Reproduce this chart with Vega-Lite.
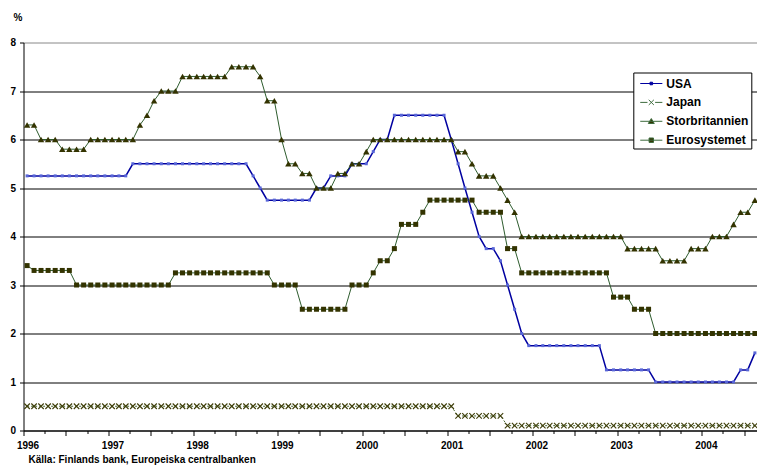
{
  "$schema": "https://vega.github.io/schema/vega-lite/v6.json",
  "width": 735,
  "height": 388,
  "autosize": "none",
  "padding": {"left": 23.5, "top": 42.5, "right": 0, "bottom": 44.5},
  "background": "white",
  "config": {"view": {"stroke": null}, "font": "Liberation Sans"},
  "title": {
    "text": "Källa: Finlands bank, Europeiska centralbanken",
    "orient": "bottom",
    "anchor": "start",
    "frame": "group",
    "dx": 5,
    "offset": 4,
    "font": "Liberation Sans",
    "fontSize": 10,
    "fontWeight": "bold",
    "color": "#000"
  },
  "data": {
    "values": [
      {"m": "1996-01", "USA": 5.25, "Japan": 0.5, "Storbritannien": 6.3, "Eurosystemet": 3.4},
      {"m": "1996-02", "USA": 5.25, "Japan": 0.5, "Storbritannien": 6.3, "Eurosystemet": 3.3},
      {"m": "1996-03", "USA": 5.25, "Japan": 0.5, "Storbritannien": 6.0, "Eurosystemet": 3.3},
      {"m": "1996-04", "USA": 5.25, "Japan": 0.5, "Storbritannien": 6.0, "Eurosystemet": 3.3},
      {"m": "1996-05", "USA": 5.25, "Japan": 0.5, "Storbritannien": 6.0, "Eurosystemet": 3.3},
      {"m": "1996-06", "USA": 5.25, "Japan": 0.5, "Storbritannien": 5.8, "Eurosystemet": 3.3},
      {"m": "1996-07", "USA": 5.25, "Japan": 0.5, "Storbritannien": 5.8, "Eurosystemet": 3.3},
      {"m": "1996-08", "USA": 5.25, "Japan": 0.5, "Storbritannien": 5.8, "Eurosystemet": 3.0},
      {"m": "1996-09", "USA": 5.25, "Japan": 0.5, "Storbritannien": 5.8, "Eurosystemet": 3.0},
      {"m": "1996-10", "USA": 5.25, "Japan": 0.5, "Storbritannien": 6.0, "Eurosystemet": 3.0},
      {"m": "1996-11", "USA": 5.25, "Japan": 0.5, "Storbritannien": 6.0, "Eurosystemet": 3.0},
      {"m": "1996-12", "USA": 5.25, "Japan": 0.5, "Storbritannien": 6.0, "Eurosystemet": 3.0},
      {"m": "1997-01", "USA": 5.25, "Japan": 0.5, "Storbritannien": 6.0, "Eurosystemet": 3.0},
      {"m": "1997-02", "USA": 5.25, "Japan": 0.5, "Storbritannien": 6.0, "Eurosystemet": 3.0},
      {"m": "1997-03", "USA": 5.25, "Japan": 0.5, "Storbritannien": 6.0, "Eurosystemet": 3.0},
      {"m": "1997-04", "USA": 5.5, "Japan": 0.5, "Storbritannien": 6.0, "Eurosystemet": 3.0},
      {"m": "1997-05", "USA": 5.5, "Japan": 0.5, "Storbritannien": 6.3, "Eurosystemet": 3.0},
      {"m": "1997-06", "USA": 5.5, "Japan": 0.5, "Storbritannien": 6.5, "Eurosystemet": 3.0},
      {"m": "1997-07", "USA": 5.5, "Japan": 0.5, "Storbritannien": 6.8, "Eurosystemet": 3.0},
      {"m": "1997-08", "USA": 5.5, "Japan": 0.5, "Storbritannien": 7.0, "Eurosystemet": 3.0},
      {"m": "1997-09", "USA": 5.5, "Japan": 0.5, "Storbritannien": 7.0, "Eurosystemet": 3.0},
      {"m": "1997-10", "USA": 5.5, "Japan": 0.5, "Storbritannien": 7.0, "Eurosystemet": 3.25},
      {"m": "1997-11", "USA": 5.5, "Japan": 0.5, "Storbritannien": 7.3, "Eurosystemet": 3.25},
      {"m": "1997-12", "USA": 5.5, "Japan": 0.5, "Storbritannien": 7.3, "Eurosystemet": 3.25},
      {"m": "1998-01", "USA": 5.5, "Japan": 0.5, "Storbritannien": 7.3, "Eurosystemet": 3.25},
      {"m": "1998-02", "USA": 5.5, "Japan": 0.5, "Storbritannien": 7.3, "Eurosystemet": 3.25},
      {"m": "1998-03", "USA": 5.5, "Japan": 0.5, "Storbritannien": 7.3, "Eurosystemet": 3.25},
      {"m": "1998-04", "USA": 5.5, "Japan": 0.5, "Storbritannien": 7.3, "Eurosystemet": 3.25},
      {"m": "1998-05", "USA": 5.5, "Japan": 0.5, "Storbritannien": 7.3, "Eurosystemet": 3.25},
      {"m": "1998-06", "USA": 5.5, "Japan": 0.5, "Storbritannien": 7.5, "Eurosystemet": 3.25},
      {"m": "1998-07", "USA": 5.5, "Japan": 0.5, "Storbritannien": 7.5, "Eurosystemet": 3.25},
      {"m": "1998-08", "USA": 5.5, "Japan": 0.5, "Storbritannien": 7.5, "Eurosystemet": 3.25},
      {"m": "1998-09", "USA": 5.25, "Japan": 0.5, "Storbritannien": 7.5, "Eurosystemet": 3.25},
      {"m": "1998-10", "USA": 5.0, "Japan": 0.5, "Storbritannien": 7.3, "Eurosystemet": 3.25},
      {"m": "1998-11", "USA": 4.75, "Japan": 0.5, "Storbritannien": 6.8, "Eurosystemet": 3.25},
      {"m": "1998-12", "USA": 4.75, "Japan": 0.5, "Storbritannien": 6.8, "Eurosystemet": 3.0},
      {"m": "1999-01", "USA": 4.75, "Japan": 0.5, "Storbritannien": 6.0, "Eurosystemet": 3.0},
      {"m": "1999-02", "USA": 4.75, "Japan": 0.5, "Storbritannien": 5.5, "Eurosystemet": 3.0},
      {"m": "1999-03", "USA": 4.75, "Japan": 0.5, "Storbritannien": 5.5, "Eurosystemet": 3.0},
      {"m": "1999-04", "USA": 4.75, "Japan": 0.5, "Storbritannien": 5.3, "Eurosystemet": 2.5},
      {"m": "1999-05", "USA": 4.75, "Japan": 0.5, "Storbritannien": 5.3, "Eurosystemet": 2.5},
      {"m": "1999-06", "USA": 5.0, "Japan": 0.5, "Storbritannien": 5.0, "Eurosystemet": 2.5},
      {"m": "1999-07", "USA": 5.0, "Japan": 0.5, "Storbritannien": 5.0, "Eurosystemet": 2.5},
      {"m": "1999-08", "USA": 5.25, "Japan": 0.5, "Storbritannien": 5.0, "Eurosystemet": 2.5},
      {"m": "1999-09", "USA": 5.25, "Japan": 0.5, "Storbritannien": 5.3, "Eurosystemet": 2.5},
      {"m": "1999-10", "USA": 5.25, "Japan": 0.5, "Storbritannien": 5.3, "Eurosystemet": 2.5},
      {"m": "1999-11", "USA": 5.5, "Japan": 0.5, "Storbritannien": 5.5, "Eurosystemet": 3.0},
      {"m": "1999-12", "USA": 5.5, "Japan": 0.5, "Storbritannien": 5.5, "Eurosystemet": 3.0},
      {"m": "2000-01", "USA": 5.5, "Japan": 0.5, "Storbritannien": 5.75, "Eurosystemet": 3.0},
      {"m": "2000-02", "USA": 5.75, "Japan": 0.5, "Storbritannien": 6.0, "Eurosystemet": 3.25},
      {"m": "2000-03", "USA": 6.0, "Japan": 0.5, "Storbritannien": 6.0, "Eurosystemet": 3.5},
      {"m": "2000-04", "USA": 6.0, "Japan": 0.5, "Storbritannien": 6.0, "Eurosystemet": 3.5},
      {"m": "2000-05", "USA": 6.5, "Japan": 0.5, "Storbritannien": 6.0, "Eurosystemet": 3.75},
      {"m": "2000-06", "USA": 6.5, "Japan": 0.5, "Storbritannien": 6.0, "Eurosystemet": 4.25},
      {"m": "2000-07", "USA": 6.5, "Japan": 0.5, "Storbritannien": 6.0, "Eurosystemet": 4.25},
      {"m": "2000-08", "USA": 6.5, "Japan": 0.5, "Storbritannien": 6.0, "Eurosystemet": 4.25},
      {"m": "2000-09", "USA": 6.5, "Japan": 0.5, "Storbritannien": 6.0, "Eurosystemet": 4.5},
      {"m": "2000-10", "USA": 6.5, "Japan": 0.5, "Storbritannien": 6.0, "Eurosystemet": 4.75},
      {"m": "2000-11", "USA": 6.5, "Japan": 0.5, "Storbritannien": 6.0, "Eurosystemet": 4.75},
      {"m": "2000-12", "USA": 6.5, "Japan": 0.5, "Storbritannien": 6.0, "Eurosystemet": 4.75},
      {"m": "2001-01", "USA": 6.0, "Japan": 0.5, "Storbritannien": 6.0, "Eurosystemet": 4.75},
      {"m": "2001-02", "USA": 5.5, "Japan": 0.3, "Storbritannien": 5.75, "Eurosystemet": 4.75},
      {"m": "2001-03", "USA": 5.0, "Japan": 0.3, "Storbritannien": 5.75, "Eurosystemet": 4.75},
      {"m": "2001-04", "USA": 4.5, "Japan": 0.3, "Storbritannien": 5.5, "Eurosystemet": 4.75},
      {"m": "2001-05", "USA": 4.0, "Japan": 0.3, "Storbritannien": 5.25, "Eurosystemet": 4.5},
      {"m": "2001-06", "USA": 3.75, "Japan": 0.3, "Storbritannien": 5.25, "Eurosystemet": 4.5},
      {"m": "2001-07", "USA": 3.75, "Japan": 0.3, "Storbritannien": 5.25, "Eurosystemet": 4.5},
      {"m": "2001-08", "USA": 3.5, "Japan": 0.3, "Storbritannien": 5.0, "Eurosystemet": 4.5},
      {"m": "2001-09", "USA": 3.0, "Japan": 0.1, "Storbritannien": 4.75, "Eurosystemet": 3.75},
      {"m": "2001-10", "USA": 2.5, "Japan": 0.1, "Storbritannien": 4.5, "Eurosystemet": 3.75},
      {"m": "2001-11", "USA": 2.0, "Japan": 0.1, "Storbritannien": 4.0, "Eurosystemet": 3.25},
      {"m": "2001-12", "USA": 1.75, "Japan": 0.1, "Storbritannien": 4.0, "Eurosystemet": 3.25},
      {"m": "2002-01", "USA": 1.75, "Japan": 0.1, "Storbritannien": 4.0, "Eurosystemet": 3.25},
      {"m": "2002-02", "USA": 1.75, "Japan": 0.1, "Storbritannien": 4.0, "Eurosystemet": 3.25},
      {"m": "2002-03", "USA": 1.75, "Japan": 0.1, "Storbritannien": 4.0, "Eurosystemet": 3.25},
      {"m": "2002-04", "USA": 1.75, "Japan": 0.1, "Storbritannien": 4.0, "Eurosystemet": 3.25},
      {"m": "2002-05", "USA": 1.75, "Japan": 0.1, "Storbritannien": 4.0, "Eurosystemet": 3.25},
      {"m": "2002-06", "USA": 1.75, "Japan": 0.1, "Storbritannien": 4.0, "Eurosystemet": 3.25},
      {"m": "2002-07", "USA": 1.75, "Japan": 0.1, "Storbritannien": 4.0, "Eurosystemet": 3.25},
      {"m": "2002-08", "USA": 1.75, "Japan": 0.1, "Storbritannien": 4.0, "Eurosystemet": 3.25},
      {"m": "2002-09", "USA": 1.75, "Japan": 0.1, "Storbritannien": 4.0, "Eurosystemet": 3.25},
      {"m": "2002-10", "USA": 1.75, "Japan": 0.1, "Storbritannien": 4.0, "Eurosystemet": 3.25},
      {"m": "2002-11", "USA": 1.25, "Japan": 0.1, "Storbritannien": 4.0, "Eurosystemet": 3.25},
      {"m": "2002-12", "USA": 1.25, "Japan": 0.1, "Storbritannien": 4.0, "Eurosystemet": 2.75},
      {"m": "2003-01", "USA": 1.25, "Japan": 0.1, "Storbritannien": 4.0, "Eurosystemet": 2.75},
      {"m": "2003-02", "USA": 1.25, "Japan": 0.1, "Storbritannien": 3.75, "Eurosystemet": 2.75},
      {"m": "2003-03", "USA": 1.25, "Japan": 0.1, "Storbritannien": 3.75, "Eurosystemet": 2.5},
      {"m": "2003-04", "USA": 1.25, "Japan": 0.1, "Storbritannien": 3.75, "Eurosystemet": 2.5},
      {"m": "2003-05", "USA": 1.25, "Japan": 0.1, "Storbritannien": 3.75, "Eurosystemet": 2.5},
      {"m": "2003-06", "USA": 1.0, "Japan": 0.1, "Storbritannien": 3.75, "Eurosystemet": 2.0},
      {"m": "2003-07", "USA": 1.0, "Japan": 0.1, "Storbritannien": 3.5, "Eurosystemet": 2.0},
      {"m": "2003-08", "USA": 1.0, "Japan": 0.1, "Storbritannien": 3.5, "Eurosystemet": 2.0},
      {"m": "2003-09", "USA": 1.0, "Japan": 0.1, "Storbritannien": 3.5, "Eurosystemet": 2.0},
      {"m": "2003-10", "USA": 1.0, "Japan": 0.1, "Storbritannien": 3.5, "Eurosystemet": 2.0},
      {"m": "2003-11", "USA": 1.0, "Japan": 0.1, "Storbritannien": 3.75, "Eurosystemet": 2.0},
      {"m": "2003-12", "USA": 1.0, "Japan": 0.1, "Storbritannien": 3.75, "Eurosystemet": 2.0},
      {"m": "2004-01", "USA": 1.0, "Japan": 0.1, "Storbritannien": 3.75, "Eurosystemet": 2.0},
      {"m": "2004-02", "USA": 1.0, "Japan": 0.1, "Storbritannien": 4.0, "Eurosystemet": 2.0},
      {"m": "2004-03", "USA": 1.0, "Japan": 0.1, "Storbritannien": 4.0, "Eurosystemet": 2.0},
      {"m": "2004-04", "USA": 1.0, "Japan": 0.1, "Storbritannien": 4.0, "Eurosystemet": 2.0},
      {"m": "2004-05", "USA": 1.0, "Japan": 0.1, "Storbritannien": 4.25, "Eurosystemet": 2.0},
      {"m": "2004-06", "USA": 1.25, "Japan": 0.1, "Storbritannien": 4.5, "Eurosystemet": 2.0},
      {"m": "2004-07", "USA": 1.25, "Japan": 0.1, "Storbritannien": 4.5, "Eurosystemet": 2.0},
      {"m": "2004-08", "USA": 1.6, "Japan": 0.1, "Storbritannien": 4.75, "Eurosystemet": 2.0}
    ]
  },
  "transform": [
    {"fold": ["USA", "Japan", "Storbritannien", "Eurosystemet"], "as": ["serie", "ranta"]}
  ],
  "encoding": {
    "x": {
      "field": "m",
      "type": "temporal",
      "timeUnit": "utcyearmonth",
      "bandPosition": 0.5,
      "title": null,
      "scale": {
        "type": "utc",
        "domain": [
          {"year": 1996, "month": 1, "date": 1, "utc": true},
          {"year": 2004, "month": 9, "date": 1, "utc": true}
        ]
      },
      "axis": {
        "tickCount": {"interval": "month", "step": 3},
        "labelExpr": "utcmonth(datum.value) === 0 ? utcFormat(datum.value, '%Y') : ''",
        "labelOverlap": false,
        "labelFlush": false,
        "labelOffset": 4,
        "labelPadding": 5,
        "labelFont": "Liberation Sans",
        "labelFontSize": 10,
        "labelFontWeight": "bold",
        "labelColor": "#000",
        "tickColor": "#000",
        "tickSize": {"condition": {"test": "utcmonth(datum.value) % 6 === 0", "value": 5}, "value": 3},
        "domainColor": "#000",
        "domainWidth": 1,
        "grid": false
      }
    },
    "y": {
      "field": "ranta",
      "type": "quantitative",
      "scale": {"domain": [0, 8], "nice": false, "zero": true},
      "axis": {
        "values": [0, 1, 2, 3, 4, 5, 6, 7, 8],
        "title": "%",
        "titleAngle": 0,
        "titleX": -6,
        "titleY": -22.5,
        "titleAlign": "center",
        "titleBaseline": "alphabetic",
        "titleFont": "Liberation Sans",
        "titleFontSize": 10,
        "titleFontWeight": "bold",
        "titleColor": "#000",
        "labelFont": "Liberation Sans",
        "labelFontSize": 10,
        "labelFontWeight": "bold",
        "labelColor": "#000",
        "labelPadding": 4,
        "tickSize": 4,
        "tickColor": "#000",
        "domainColor": "#000",
        "grid": true,
        "gridColor": {"condition": {"test": "datum.value === 8", "value": "#888888"}, "value": "#000000"},
        "gridWidth": 1,
        "gridOpacity": 1
      }
    }
  },
  "layer": [
    {
      "transform": [{"filter": "datum.serie === 'USA'"}],
      "mark": {"type": "line", "stroke": "#0000a0", "strokeWidth": 1.5}
    },
    {
      "transform": [{"filter": "datum.serie === 'USA'"}],
      "mark": {"type": "point", "shape": "square", "size": 9, "filled": true, "color": "#5866d8", "opacity": 1}
    },
    {
      "transform": [{"filter": "datum.serie === 'Japan'"}],
      "mark": {"type": "line", "stroke": "#4a6a34", "strokeWidth": 1, "strokeDash": [2, 2]}
    },
    {
      "transform": [{"filter": "datum.serie === 'Japan'"}],
      "mark": {"type": "point", "shape": "M-1,-1L1,1M-1,1L1,-1", "size": 30, "filled": false, "stroke": "#3d3d08", "strokeWidth": 1.1, "opacity": 1}
    },
    {
      "transform": [{"filter": "datum.serie === 'Storbritannien' || datum.serie === 'Eurosystemet'"}],
      "mark": {"type": "line", "stroke": "#2e5c2e", "strokeWidth": 1},
      "encoding": {"detail": {"field": "serie", "type": "nominal"}}
    },
    {
      "transform": [{"filter": "datum.serie === 'Storbritannien'"}],
      "mark": {"type": "point", "shape": "triangle-up", "size": 42, "filled": true, "color": "#333300", "opacity": 1}
    },
    {
      "transform": [{"filter": "datum.serie === 'Eurosystemet'"}],
      "mark": {"type": "point", "shape": "square", "size": 25, "filled": true, "color": "#333300", "opacity": 1}
    },
    {
      "transform": [{"filter": "false"}],
      "mark": {"type": "point", "filled": true, "strokeWidth": 1, "opacity": 1},
      "encoding": {
        "shape": {
          "field": "serie",
          "type": "nominal",
          "scale": {
            "domain": ["USA", "Japan", "Storbritannien", "Eurosystemet"],
            "range": [
              "M-1.3,0H1.3M-0.15,-0.15H0.15V0.15H-0.15Z",
              "M-1.3,0H-0.45M0.45,0H1.3M-0.3,-0.3L0.3,0.3M-0.3,0.3L0.3,-0.3",
              "M-1.3,0H1.3M0,-0.32L0.35,0.26H-0.35Z",
              "M-1.3,0H1.3M-0.26,-0.26H0.26V0.26H-0.26Z"
            ]
          },
          "legend": {
            "orient": "none", "legendX": 609.8, "legendY": 30, "title": null,
            "padding": 2, "symbolOffset": 7, "rowPadding": 3.9, "symbolSize": 289,
            "symbolStrokeWidth": 1, "symbolOpacity": 1,
            "labelOffset": 6, "labelFont": "Liberation Sans", "labelFontSize": 12,
            "labelFontWeight": "bold", "labelColor": "#000",
            "strokeColor": "#000", "fillColor": "#ffffff"
          }
        },
        "fill": {
          "field": "serie",
          "type": "nominal",
          "scale": {
            "domain": ["USA", "Japan", "Storbritannien", "Eurosystemet"],
            "range": ["#0000a0", "transparent", "#333300", "#333300"]
          },
          "legend": {
            "orient": "none", "legendX": 609.8, "legendY": 30, "title": null,
            "padding": 2, "symbolOffset": 7, "rowPadding": 3.9, "symbolSize": 289,
            "symbolStrokeWidth": 1, "symbolOpacity": 1,
            "labelOffset": 6, "labelFont": "Liberation Sans", "labelFontSize": 12,
            "labelFontWeight": "bold", "labelColor": "#000",
            "strokeColor": "#000", "fillColor": "#ffffff"
          }
        },
        "stroke": {
          "field": "serie",
          "type": "nominal",
          "scale": {
            "domain": ["USA", "Japan", "Storbritannien", "Eurosystemet"],
            "range": ["#0000a0", "#3d6b3d", "#3d6b3d", "#3d6b3d"]
          },
          "legend": {
            "orient": "none", "legendX": 609.8, "legendY": 30, "title": null,
            "padding": 2, "symbolOffset": 7, "rowPadding": 3.9, "symbolSize": 289,
            "symbolStrokeWidth": 1, "symbolOpacity": 1,
            "labelOffset": 6, "labelFont": "Liberation Sans", "labelFontSize": 12,
            "labelFontWeight": "bold", "labelColor": "#000",
            "strokeColor": "#000", "fillColor": "#ffffff"
          }
        }
      }
    }
  ]
}
